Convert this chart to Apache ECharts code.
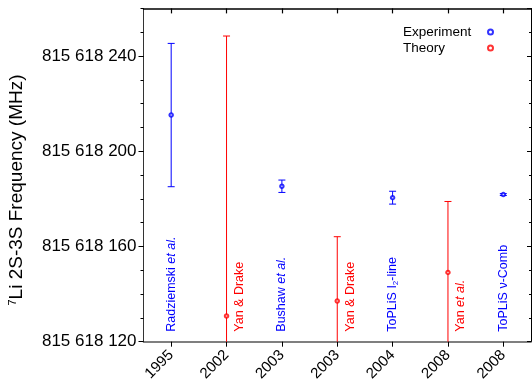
<!DOCTYPE html>
<html>
<head>
<meta charset="utf-8">
<script src="https://cdn.jsdelivr.net/npm/echarts@6/dist/echarts.min.js"></script>
<style>
  html, body { margin: 0; padding: 0; background: #fff; }
  #freqChart { width: 532px; height: 387px; }
</style>
</head>
<body>
<div id="freqChart"></div>
<script>
// categories on the x axis (publication year)
var years = ['1995', '2002', '2003', '2003', '2004', '2008', '2008'];

// experiment: category index, frequency (MHz), error (MHz), label
var expIndex = [0, 2, 4, 6];
var expValue = [815618215.2, 815618185.3, 815618180.5, 815618181.8];
var expError = [30.1, 2.6, 2.7, 0.4];
var expLabel = ['{n|Radziemski }{i|et al.}', '{n|Bushaw }{i|et al.}', '{n|ToPLiS I}{s|2}{n|-line}', '{n|ToPLiS ν-Comb}'];

// theory
var theoIndex = [1, 3, 5];
var theoValue = [815618130.8, 815618137.1, 815618149.1];
var theoError = [117.6, 27.0, 29.8];
var theoLabel = ['{n|Yan & Drake}', '{n|Yan & Drake}', '{n|Yan }{i|et al.}'];

// y ticks
var yMin = 815618120;
var yMax = 815618260;
var yStep = 40;
var yMinorStep = 10;

var BLUE = '#0000ff';
var RED = '#ff0000';
var FONT = '"Liberation Sans", Arial, sans-serif';

var chartDom = document.getElementById('freqChart');
var freqChart = echarts.init(chartDom);

function fmtFreq(v) {
    return String(Math.round(v)).replace(/\B(?=(\d{3})+(?!\d))/g, ' ');
}

function pairs(idx, vals, errs) {
    var out = [];
    for (var i = 0; i < idx.length; i++) {
        out.push([idx[i], vals[i], errs ? errs[i] : 0]);
    }
    return out;
}

function makeErrorRender(color, labels, dx) {
    return function (params, api) {
        var idx = api.value(0);
        var val = api.value(1);
        var err = api.value(2);
        var hi = Math.min(val + err, yMax);
        var lo = Math.max(val - err, yMin);
        var pHi = api.coord([idx, hi]);
        var pLo = api.coord([idx, lo]);
        var base = api.coord([idx, yMin]);
        var x = pHi[0];
        var capW = 3.5;
        var style = { stroke: color, lineWidth: 1 };
        var children = [
            { type: 'line', shape: { x1: x, y1: pHi[1], x2: x, y2: pLo[1] }, style: style }
        ];
        if (val + err <= yMax) {
            children.push({ type: 'line', shape: { x1: x - capW, y1: pHi[1], x2: x + capW, y2: pHi[1] }, style: style });
        }
        if (val - err >= yMin) {
            children.push({ type: 'line', shape: { x1: x - capW, y1: pLo[1], x2: x + capW, y2: pLo[1] }, style: style });
        }
        children.push({
            type: 'text',
            x: x + dx,
            y: base[1] - 10,
            rotation: Math.PI / 2,
            style: {
                text: labels[params.dataIndex],
                align: 'left',
                verticalAlign: 'middle',
                fill: color,
                rich: {
                    n: { fontSize: 12.5, fontFamily: FONT, fill: color },
                    i: { fontSize: 12.5, fontFamily: FONT, fontStyle: 'italic', fill: color },
                    s: { fontSize: 8, fontFamily: FONT, fill: color, verticalAlign: 'bottom', padding: [6, 0, 0, 0] }
                }
            }
        });
        return { type: 'group', children: children };
    };
}

var option = {
    animation: false,
    textStyle: { fontFamily: FONT },
    grid: {
        left: 143.5,
        right: 1,
        top: 8.4,
        bottom: 45.3,
        containLabel: false,
        outerBoundsMode: 'none'
    },
    legend: {
        orient: 'vertical',
        left: 403,
        top: 25,
        align: 'right',
        padding: 0,
        itemGap: 2,
        itemWidth: 5,
        itemHeight: 5,
        data: ['Experiment', 'Theory'],
        formatter: '{w|{name}}',
        textStyle: {
            fontSize: 13.5,
            color: '#000',
            fontFamily: FONT,
            rich: {
                w: { width: 80, align: 'left', fontSize: 13.5, fontFamily: FONT, color: '#000' }
            }
        }
    },
    graphic: [{
        type: 'text',
        x: 17,
        y: 190,
        rotation: Math.PI / 2,
        style: {
            text: '{sup|7}{n|Li 2S-3S Frequency (MHz)}',
            align: 'center',
            verticalAlign: 'middle',
            rich: {
                sup: { fontSize: 11, fontFamily: FONT, fill: '#000', verticalAlign: 'top', padding: [0, 0, 8, 0] },
                n: { fontSize: 19, fontFamily: FONT, fill: '#000' }
            }
        }
    }],
    xAxis: [
        {
            type: 'category',
            data: years,
            position: 'bottom',
            axisLine: { lineStyle: { color: '#555', width: 1.5 } },
            axisTick: { show: true, alignWithLabel: true, interval: 0, inside: false, length: 5, lineStyle: { color: '#000' } },
            axisLabel: { rotate: 45, interval: 0, fontSize: 15, color: '#000', margin: 11, fontFamily: FONT },
            splitLine: { show: false }
        },
        {
            type: 'category',
            data: years,
            position: 'top',
            axisLine: { show: true, lineStyle: { color: '#000', width: 1.5 } },
            axisTick: { show: true, alignWithLabel: true, interval: 0, inside: true, length: 5, lineStyle: { color: '#000', width: 1.2 } },
            // labels kept (transparent) so the ticks are laid out at the centres
            axisLabel: { show: true, inside: true, interval: 0, color: 'rgba(0,0,0,0)', fontSize: 6 },
            splitLine: { show: false }
        }
    ],
    yAxis: [
        {
            type: 'value',
            position: 'left',
            min: yMin,
            max: yMax,
            interval: yStep,
            axisLine: { show: true, lineStyle: { color: '#333', width: 1 } },
            axisTick: { show: true, inside: false, length: 5, lineStyle: { color: '#000' } },
            axisLabel: { formatter: fmtFreq, fontSize: 17, color: '#000', margin: 7, showMaxLabel: false, fontFamily: FONT },
            splitLine: { show: false }
        },
        {
            type: 'value',
            position: 'left',
            min: yMin,
            max: yMax,
            interval: yMinorStep,
            axisLine: { show: false },
            axisTick: { show: true, inside: false, length: 3, lineStyle: { color: '#000' } },
            axisLabel: { show: false },
            splitLine: { show: false }
        },
        {
            type: 'value',
            position: 'right',
            min: yMin,
            max: yMax,
            interval: yStep,
            axisLine: { show: true, lineStyle: { color: '#000', width: 1 } },
            axisTick: { show: true, inside: true, length: 4, lineStyle: { color: '#000' } },
            axisLabel: { show: false },
            splitLine: { show: false }
        },
        {
            type: 'value',
            position: 'right',
            min: yMin,
            max: yMax,
            interval: yMinorStep,
            axisLine: { show: false },
            axisTick: { show: true, inside: true, length: 2, lineStyle: { color: '#000' } },
            axisLabel: { show: false },
            splitLine: { show: false }
        }
    ],
    series: [
        {
            name: 'Experiment',
            type: 'scatter',
            symbol: 'emptyCircle',
            symbolSize: 3.5,
            itemStyle: { color: BLUE, borderColor: BLUE, borderWidth: 1 },
            data: pairs(expIndex, expValue),
            z: 5
        },
        {
            name: 'Theory',
            type: 'scatter',
            symbol: 'emptyCircle',
            symbolSize: 3.5,
            itemStyle: { color: RED, borderColor: RED, borderWidth: 1 },
            data: pairs(theoIndex, theoValue),
            z: 5
        },
        {
            name: 'Experiment',
            type: 'custom',
            renderItem: makeErrorRender(BLUE, expLabel, 0),
            data: pairs(expIndex, expValue, expError),
            encode: { x: 0, y: 1 },
            z: 2
        },
        {
            name: 'Theory',
            type: 'custom',
            xAxisIndex: 1,
            renderItem: makeErrorRender(RED, theoLabel, 13),
            data: pairs(theoIndex, theoValue, theoError),
            encode: { x: 0, y: 1 },
            z: 2
        }
    ]
};

freqChart.setOption(option);
</script>
</body>
</html>
